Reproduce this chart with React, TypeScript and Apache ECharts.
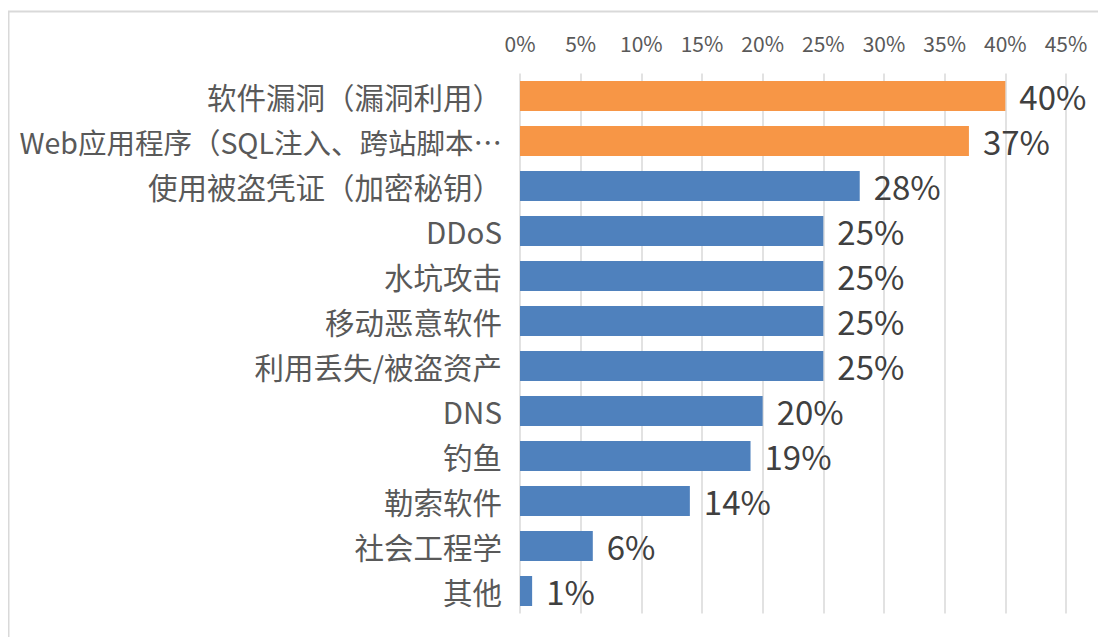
import React, { useEffect, useRef } from "react";
import * as echarts from "echarts";

const categories = [
  "软件漏洞（漏洞利用）",
  "Web应用程序（SQL注入、跨站脚本…",
  "使用被盗凭证（加密秘钥）",
  "DDoS",
  "水坑攻击",
  "移动恶意软件",
  "利用丢失/被盗资产",
  "DNS",
  "钓鱼",
  "勒索软件",
  "社会工程学",
  "其他",
];
const values = [40, 37, 28, 25, 25, 25, 25, 20, 19, 14, 6, 1];
const highlighted = [true, true, false, false, false, false, false, false, false, false, false, false];
const tickMax = 45;
const tickStep = 5;

const FONT = '"Noto Sans CJK SC", "Noto Sans", sans-serif';

export default function App() {
  const ref = useRef<HTMLDivElement>(null);
  useEffect(() => {
    const chart = echarts.init(ref.current!, null, { renderer: "svg" });
    chart.setOption({
      animation: false,
      backgroundColor: "#ffffff",
      graphic: [
        {
          type: "rect",
          shape: { x: 0.5, y: 3.5, width: 1200, height: 700 },
          style: { fill: "none", stroke: "#d9d9d9", lineWidth: 2 },
          silent: true,
        },
      ],
      grid: { left: 512, right: 40, top: 65.5, height: 540, containLabel: false },
      xAxis: {
        type: "value",
        position: "top",
        min: 0,
        max: tickMax,
        interval: tickStep,
        axisLine: { show: false },
        axisTick: { show: false },
        splitLine: { show: true, lineStyle: { color: "#d9d9d9", width: 1.5 } },
        axisLabel: {
          formatter: (v: number) => v + "%",
          color: "#595959",
          fontSize: 21,
          fontFamily: FONT,
          margin: 20,
        },
      },
      yAxis: {
        type: "category",
        inverse: true,
        data: categories,
        axisLine: { show: false },
        axisTick: { show: false },
        axisLabel: {
          color: "#595959",
          fontSize: 29.5,
          fontFamily: FONT,
          margin: 18,
          formatter: (v: string) => (v.length > 16 ? `{s|${v}}` : v),
          rich: {
            s: { fontSize: 28.5, color: "#595959", fontFamily: FONT },
          },
        },
      },
      series: [
        {
          type: "bar",
          barWidth: 30,
          data: values.map((v, i) => ({
            value: v,
            itemStyle: { color: highlighted[i] ? "#F79646" : "#4F81BD" },
          })),
          label: {
            show: true,
            position: "right",
            distance: 14,
            formatter: (p: any) => p.value + "%",
            color: "#404040",
            fontSize: 33,
            fontFamily: FONT,
          },
        },
      ],
    });
    return () => chart.dispose();
  }, []);
  return <div ref={ref} style={{ width: 1098, height: 629 }} />;
}
